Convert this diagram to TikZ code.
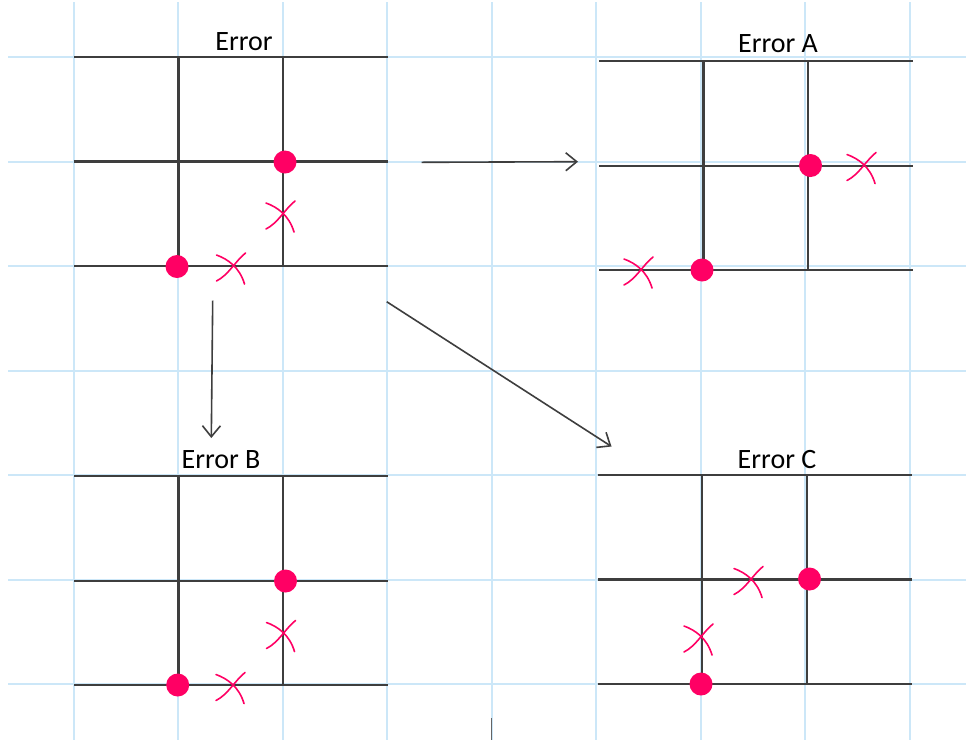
\documentclass[tikz,border=0pt]{standalone}
\usepackage{fontspec}
\setmainfont{Carlito}
\usetikzlibrary{arrows.meta}

\definecolor{gridblue}{RGB}{204,231,248}
\definecolor{wire}{RGB}{62,62,62}
\definecolor{hot}{RGB}{255,0,100}

\tikzset{
  gridline/.style={draw=gridblue, line width=2pt},
  wireline/.style={draw=wire, line width=2.2pt},
  flowarrow/.style={draw=wire, line width=1.6pt,
    -{Straight Barb[length=11pt,width=18pt,line width=1.6pt]}},
  crossline/.style={draw=hot, line width=1.6pt, line cap=round},
  title/.style={inner sep=0pt, anchor=base, font=\fontsize{28}{30}\selectfont},
  dot/.style={circle, fill=hot, minimum size=23pt, inner sep=0pt},
  board/.pic={
    \foreach \r in {0,104.5,209}
      \draw[wireline] (0,\r) -- (314,\r);
    \foreach \c in {104.5,209}
      \draw[wireline] (\c,0) -- (\c,209);
  },
  cross/.pic={
    \draw[crossline] (-17,-11) .. controls (-6,-7) and (6,1) .. (11,18);
    \draw[crossline] (12,-13) .. controls (2,-5) and (-5,9) .. (-17,15);
  }
}

\begin{document}
\begin{tikzpicture}[x=1pt,y=-1pt]
  \useasboundingbox (0,0) rectangle (966,740);
  \fill[white] (0,0) rectangle (966,740);

  % background squared paper
  \foreach \k in {0,...,8}
    \draw[gridline] ({74+104.45*\k},2) -- ({74+104.45*\k},740);
  \foreach \k in {0,...,6}
    \draw[gridline] (8,{57+104.5*\k}) -- (966,{57+104.5*\k});

  % the four boards
  \pic at (74,57) {board};
  \pic at (599,61.3) {board};
  \pic at (74,476.3) {board};
  \pic at (597.7,475) {board};

  % titles
  \node[title] (t0) at (244,50) {Error};
  \node[title] (tA) at (778,52) {Error A};
  \node[title] (tB) at (221,468) {Error B};
  \node[title] (tC) at (777,468) {Error C};

  % occupied points
  \node[dot] (d01) at (285,162) {};
  \node[dot] (d02) at (177,266.5) {};
  \node[dot] (dA1) at (810.5,165.5) {};
  \node[dot] (dA2) at (702,270) {};
  \node[dot] (dB1) at (285.5,581) {};
  \node[dot] (dB2) at (177.7,685) {};
  \node[dot] (dC1) at (809.5,579) {};
  \node[dot] (dC2) at (701,684) {};

  % faulty edges
  \pic at (283,214) {cross};
  \pic at (233.5,266) {cross};
  \pic at (864,165.5) {cross};
  \pic at (641,270) {cross};
  \pic at (283.5,633.5) {cross};
  \pic at (233,685.5) {cross};
  \pic at (751,579.5) {cross};
  \pic at (701,637) {cross};

  % transitions
  \coordinate (hS) at (421.5,162.3);
  \coordinate (hE) at (578,161.7);
  \coordinate (vS) at (212.7,300.5);
  \coordinate (vE) at (211.3,438);
  \coordinate (gS) at (386.7,301.7);
  \coordinate (gE) at (611.5,446.5);
  \draw[flowarrow] (hS) -- (hE);
  \draw[flowarrow] (vS) -- (vE);
  \draw[flowarrow] (gS) -- (gE);

  % small mark at the lower edge
  \coordinate (mS) at (491.5,718);
  \coordinate (mE) at (491.5,740);
  \draw[draw=wire!80, line width=1.6pt] (mS) -- (mE);
\end{tikzpicture}
\end{document}
